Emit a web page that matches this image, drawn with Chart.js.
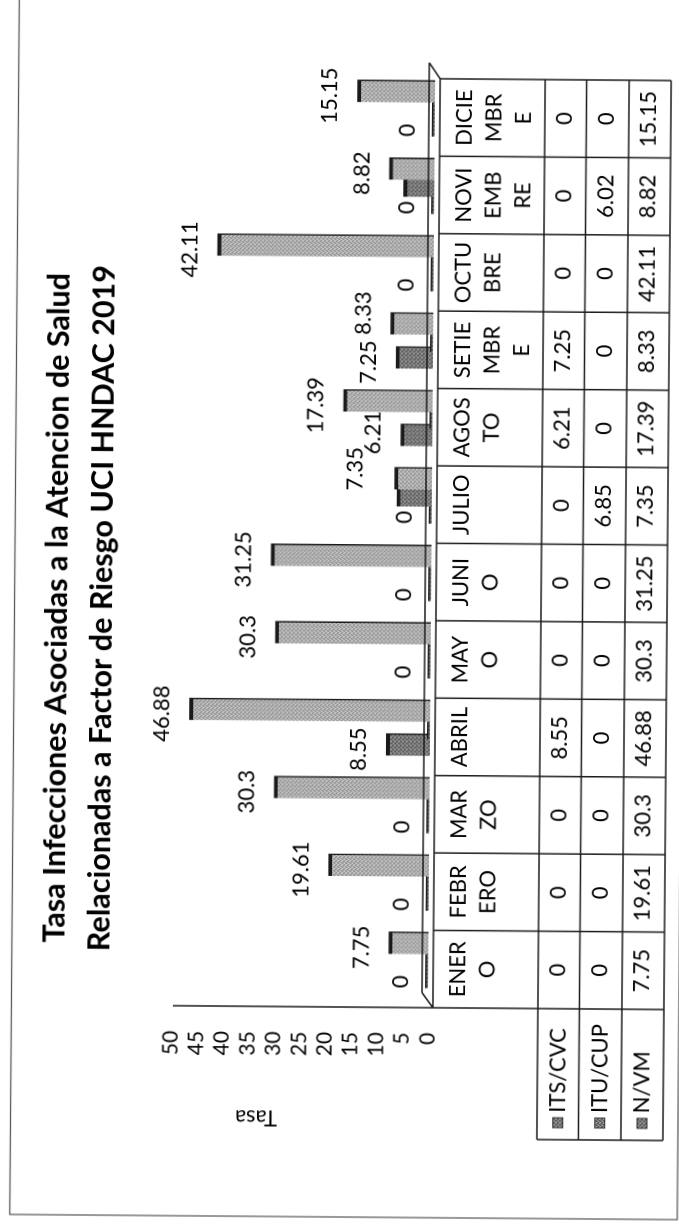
<!DOCTYPE html>
<html>
<head>
<meta charset="utf-8">
<script src="https://cdn.jsdelivr.net/npm/chart.js@4.4.1/dist/chart.umd.min.js"></script>
<style>
  html, body { margin: 0; padding: 0; background: #fff; overflow: hidden; width: 679px; height: 1224px; }
  #frame {
    position: absolute; left: 0; top: 0; width: 1224px; height: 690px;
    transform-origin: 0 0;
    transform: translate(0, 1224px) rotate(-90deg) translate(612px, 340px) rotate(0.45deg) translate(-612px, -340px);
  }
</style>
</head>
<body>
<div id="frame"><canvas id="c" width="1224" height="690"></canvas></div>
<script>
var titulo = [
  "Tasa Infecciones Asociadas a la Atencion de Salud",
  "Relacionadas a Factor de Riesgo UCI HNDAC 2019"
];
var meses = [
  ["ENER", "O"], ["FEBR", "ERO"], ["MAR", "ZO"], ["ABRIL"], ["MAY", "O"], ["JUNI", "O"],
  ["JULIO"], ["AGOS", "TO"], ["SETIE", "MBR", "E"], ["OCTU", "BRE"], ["NOVI", "EMB", "RE"], ["DICIE", "MBR", "E"]
];
var series = ["ITS/CVC", "ITU/CUP", "N/VM"];
var itsCvc = [0, 0, 0, 8.55, 0, 0, 0, 6.21, 7.25, 0, 0, 0];
var ituCup = [0, 0, 0, 0, 0, 0, 6.85, 0, 0, 0, 6.02, 0];
var nVm = [7.75, 19.61, 30.3, 46.88, 30.3, 31.25, 7.35, 17.39, 8.33, 42.11, 8.82, 15.15];
var conEtiqueta = [true, false, true];
var tasaTicks = [0, 5, 10, 15, 20, 25, 30, 35, 40, 45, 50];

// labels that were moved by hand in the original (series index, month index, dx, dy)
var etiquetasMovidas = [[2, 6, 14, -12], [0, 7, 7, 0], [2, 8, 15, 0]];

var FONT = "Lato, 'DejaVu Sans', sans-serif";
var ctxC = document.getElementById("c").getContext("2d");

// grey dither, like the scanned pattern fills
function dither(base, dark, light) {
  var p = document.createElement("canvas");
  p.width = 4; p.height = 4;
  var g = p.getContext("2d");
  g.fillStyle = base; g.fillRect(0, 0, 4, 4);
  g.fillStyle = dark;
  [[0, 0], [2, 1], [1, 3], [3, 2]].forEach(function (q) { g.fillRect(q[0], q[1], 1, 1); });
  g.fillStyle = light;
  [[2, 3], [0, 2], [3, 0]].forEach(function (q) { g.fillRect(q[0], q[1], 1, 1); });
  return ctxC.createPattern(p, "repeat");
}
var fillOscuro = dither("#7e7e7e", "#2e2e2e", "#c8c8c8");
var fillClaro = dither("#b6b6b6", "#6e6e6e", "#e8e8e8");

var tablaPlugin = {
  id: "tabla",
  beforeDatasetsDraw: function (chart) {
    // ITS first, N/VM last (on top)
    [0, 1, 2].forEach(function (i) {
      chart.getDatasetMeta(i).controller.draw();
    });
    return false;
  },
  afterDraw: function (chart) {
    var c = chart.ctx, a = chart.chartArea, ys = chart.scales.y;
    var n = meses.length;
    var colW = (a.right - a.left) / n;
    var left = a.left - 9, right = left + colW * n;
    var vTop = 436, vBack = 425, legL = 86;
    var rows = [541, 582.5, 625, 667];
    var valores = [itsCvc, ituCup, nVm];

    c.save();
    c.strokeStyle = "#1a1a1a";
    c.lineWidth = 1.5;
    c.beginPath();
    // axis
    c.moveTo(left, ys.getPixelForValue(50) + 2); c.lineTo(left, rows[3]);
    // floor
    c.moveTo(left, vTop); c.lineTo(right, vTop);
    c.moveTo(left + 15, vBack); c.lineTo(right + 16, vBack);
    c.moveTo(left, vTop); c.lineTo(left + 15, vBack);
    c.moveTo(right, vTop); c.lineTo(right + 16, vBack);
    // table
    for (var i = 1; i <= n; i++) {
      c.moveTo(left + i * colW, vTop); c.lineTo(left + i * colW, rows[3]);
    }
    rows.forEach(function (r) { c.moveTo(legL, r); c.lineTo(right, r); });
    c.moveTo(legL, rows[0]); c.lineTo(legL, rows[3]);
    c.stroke();

    c.fillStyle = "#000";
    c.textAlign = "center";
    c.textBaseline = "middle";
    c.font = "22px " + FONT;
    meses.forEach(function (m, i) {
      var cx = left + (i + 0.5) * colW;
      m.forEach(function (t, k) { c.fillText(t, cx, 461 + k * 29.5); });
      valores.forEach(function (arr, r) {
        c.fillText(String(arr[i]), cx, (rows[r] + rows[r + 1]) / 2 - 1);
      });
    });

    // legend keys in the table
    series.forEach(function (s, r) {
      var cy = (rows[r] + rows[r + 1]) / 2;
      c.fillStyle = fillOscuro;
      c.fillRect(98, cy - 5, 10, 10);
      c.strokeStyle = "#333"; c.lineWidth = 1;
      c.strokeRect(98, cy - 5, 10, 10);
      c.fillStyle = "#000";
      c.textAlign = "left";
      c.fillText(s, 113, cy);
    });

    // data labels
    c.textAlign = "center";
    c.font = "22px " + FONT;
    [0, 1, 2].forEach(function (di) {
      if (!conEtiqueta[di]) return;
      chart.getDatasetMeta(di).data.forEach(function (bar, j) {
        var v = valores[di][j], dx = 0, dy = 0;
        etiquetasMovidas.forEach(function (m) {
          if (m[0] === di && m[1] === j) { dx = m[2]; dy = m[3]; }
        });
        c.fillText(String(v), bar.x - 5 + dx, ys.getPixelForValue(v) - 27 + dy);
      });
    });

    // axis title
    c.save();
    c.translate(106, 260);
    c.rotate(-Math.PI / 2);
    c.font = "22px " + FONT;
    c.fillText("Tasa", 0, 0);
    c.restore();

    // title
    c.font = "bold 30.5px " + FONT;
    c.textBaseline = "alphabetic";
    c.fillText(titulo[0], 614, 67);
    c.fillText(titulo[1], 614, 112);

    // outer frame
    c.strokeStyle = "#555";
    c.lineWidth = 1.2;
    c.beginPath();
    c.moveTo(1240, 14.5); c.lineTo(7, 14.5); c.lineTo(7, 682); c.lineTo(1240, 682);
    c.stroke();
    c.restore();
  }
};

function serie(label, data, fill, idx) {
  return {
    label: label,
    data: data,
    backgroundColor: fill,
    borderColor: "#1a1a1a",
    borderWidth: { top: 4, right: 1.6, left: 0, bottom: 0 },
    borderSkipped: "start",
    minBarLength: idx < 2 ? 3 : 0,
    categoryPercentage: 0.659,
    barPercentage: 1.32
  };
}

new Chart(ctxC, {
  type: "bar",
  data: {
    labels: meses,
    datasets: [
      serie(series[0], itsCvc, fillOscuro, 0),
      serie(series[1], ituCup, fillOscuro, 1),
      serie(series[2], nVm, fillClaro, 2)
    ]
  },
  options: {
    responsive: false,
    animation: false,
    devicePixelRatio: 2,
    layout: { padding: { top: 174, bottom: 690 - 431, right: 69, left: 0 } },
    scales: {
      x: { display: false, offset: true },
      y: {
        min: tasaTicks[0],
        max: tasaTicks[tasaTicks.length - 1],
        grid: { display: false, drawTicks: false },
        border: { display: false },
        ticks: {
          stepSize: tasaTicks[1] - tasaTicks[0],
          autoSkip: false,
          padding: 34,
          color: "#000",
          font: { family: FONT, size: 21 }
        },
        afterFit: function (scale) { scale.width = 226; }
      }
    },
    plugins: {
      legend: { display: false },
      title: { display: false },
      tooltip: { enabled: false }
    }
  },
  plugins: [tablaPlugin]
});
</script>
</body>
</html>
